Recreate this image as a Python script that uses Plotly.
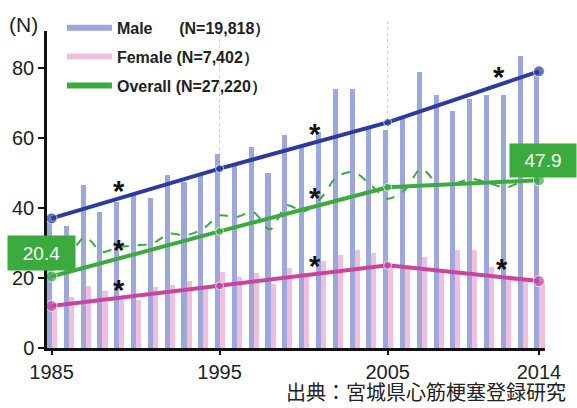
import numpy as np
import plotly.graph_objects as go

# Yearly incidence (1985-2014)
years = list(range(1985, 2015))
male = [36.0, 34.8, 46.5, 38.9, 41.6, 43.8, 42.9, 49.3, 47.4, 49.6,
        55.3, 52.6, 57.4, 50.1, 60.8, 57.8, 61.6, 73.9, 73.9, 62.5,
        62.2, 65.9, 78.7, 72.2, 67.7, 71.1, 72.2, 72.2, 83.3, 78.5]
female = [11.5, 14.6, 17.7, 16.2, 14.4, 13.8, 17.4, 17.9, 19.1, 17.8,
          21.8, 20.3, 21.5, 18.4, 22.7, 21.3, 24.8, 26.6, 27.9, 27.1,
          23.8, 22.5, 26.1, 21.8, 28.0, 27.9, 23.1, 20.3, 19.4, 19.2]
overall = [22.0, 26.0, 31.7, 27.4, 28.8, 29.3, 29.8, 32.6, 32.2, 34.0,
           37.8, 37.4, 38.8, 33.8, 40.7, 39.0, 42.6, 49.0, 50.2, 46.5,
           42.6, 45.0, 51.2, 46.9, 47.0, 48.3, 47.2, 45.8, 47.5, 47.9]

# Joinpoint trend lines
trend_years = [1985, 1995, 2005, 2014]
male_trend = [37.0, 51.2, 64.4, 79.0]
female_trend = [12.0, 17.7, 23.6, 19.1]
overall_trend = [20.4, 33.3, 45.9, 47.9]

# Significant-trend markers (segment label positions)
sig_x_male = [1989.0, 2000.7, 2011.6]
sig_x_female = [1989.0, 2000.7, 2011.8]
sig_x_overall = [1989.0, 2000.7]

tick_years = [1985, 1995, 2005, 2014]
y_ticks = [0, 20, 40, 60, 80]

legend_names = ["<b>Male\u00a0\u00a0\u00a0\u00a0\u00a0 (N=19,818）</b>",
                "<b>Female (N=7,402）</b>",
                "<b>Overall (N=27,220）</b>"]

BAR_BLUE = "#9ca7dc"
BAR_PINK = "#f0bfdb"
LINE_BLUE = "#2b3b9e"
LINE_PINK = "#c8449e"
GREEN = "#3aab3c"
FONT = "Liberation Sans, Arial, sans-serif"

fig = go.Figure()

fig.add_trace(go.Bar(x=years, y=male, width=0.3, offset=-0.27,
                     marker=dict(color=BAR_BLUE, line=dict(width=0)),
                     showlegend=False, hoverinfo="skip"))
fig.add_trace(go.Bar(x=years, y=female, width=0.3, offset=0.03,
                     marker=dict(color=BAR_PINK, line=dict(width=0)),
                     showlegend=False, hoverinfo="skip"))

fig.add_trace(go.Scatter(x=years, y=overall, mode="lines",
                         line=dict(color=GREEN, width=2, dash="dash", shape="spline", smoothing=0.8),
                         showlegend=False, hoverinfo="skip"))

for ty, col in [(male_trend, LINE_BLUE), (female_trend, LINE_PINK), (overall_trend, GREEN)]:
    fig.add_trace(go.Scatter(x=trend_years, y=ty, mode="lines+markers",
                             line=dict(color=col, width=4),
                             marker=dict(color=col, size=[11, 8, 8, 11]),
                             showlegend=False, hoverinfo="skip", cliponaxis=False))

# Legend entries
for name, col in zip(legend_names, [BAR_BLUE, BAR_PINK, GREEN]):
    fig.add_trace(go.Scatter(x=[None], y=[None], mode="lines", name=name,
                             legendgroup=name, line=dict(color=col, width=6)))

annotations = []
# Asterisks above each significant segment
for sx, tr in [(sig_x_male, male_trend), (sig_x_female, female_trend), (sig_x_overall, overall_trend)]:
    for x in sx:
        annotations.append(dict(x=x, y=float(np.interp(x, trend_years, tr)), text="<b>*</b>",
                                showarrow=False, yanchor="middle", yshift=8,
                                font=dict(size=29, color="#111", family=FONT)))

# Start / end value boxes
annotations.append(dict(x=trend_years[0], y=overall_trend[0], text=f"{overall_trend[0]:.1f}",
                        showarrow=False, xanchor="center", yanchor="bottom",
                        xshift=-10, yshift=6, width=65, height=32,
                        bgcolor=GREEN, font=dict(size=19, color="white", family=FONT)))
annotations.append(dict(x=trend_years[-1], y=overall_trend[-1], text=f"{overall_trend[-1]:.1f}",
                        showarrow=False, xanchor="center", yanchor="bottom",
                        xshift=4.5, yshift=2, width=64, height=31,
                        bgcolor=GREEN, font=dict(size=19, color="white", family=FONT)))

annotations.append(dict(xref="paper", yref="paper", x=-0.08, y=1.022, text="(N)",
                        showarrow=False, xanchor="left", yanchor="middle",
                        font=dict(size=21, color="#222", family=FONT)))
annotations.append(dict(xref="paper", yref="paper", x=1.046, y=-0.1887,
                        text="出典：宮城県心筋梗塞登録研究",
                        showarrow=False, xanchor="right", yanchor="bottom",
                        font=dict(size=20, color="#222", family="Noto Sans CJK JP")))

shapes = []
for jy in trend_years[1:3]:
    shapes.append(dict(type="line", xref="x", yref="paper", x0=jy, x1=jy, y0=0, y1=1.031,
                       line=dict(color="#c8c8c8", width=1, dash="dot"), layer="below"))

fig.update_layout(
    width=577, height=408,
    margin=dict(l=47, r=32, t=30, b=60),
    plot_bgcolor="white", paper_bgcolor="white",
    barmode="overlay", bargap=0,
    font=dict(family=FONT, color="#222"),
    annotations=annotations, shapes=shapes,
    showlegend=True,
    legend=dict(x=0.03, y=1.06, xanchor="left", yanchor="top",
                bgcolor="rgba(0,0,0,0)", font=dict(size=16, color="#222", family=FONT),
                tracegroupgap=5, itemwidth=45),
    xaxis=dict(range=[1984.73, 2014.36], tickmode="array", tickvals=tick_years,
               ticks="outside", ticklen=4, tickwidth=2, tickcolor="#111",
               showline=True, linecolor="#111", linewidth=2.5,
               showgrid=False, zeroline=False,
               tickfont=dict(size=20, color="#222", family=FONT)),
    yaxis=dict(range=[0, 90.5], tickmode="array", tickvals=y_ticks,
               ticks="outside", ticklen=6, tickwidth=2, tickcolor="#111",
               showline=True, linecolor="#111", linewidth=2.5,
               showgrid=False, zeroline=False,
               tickfont=dict(size=20, color="#222", family=FONT)),
)

fig.write_html("out.html")
